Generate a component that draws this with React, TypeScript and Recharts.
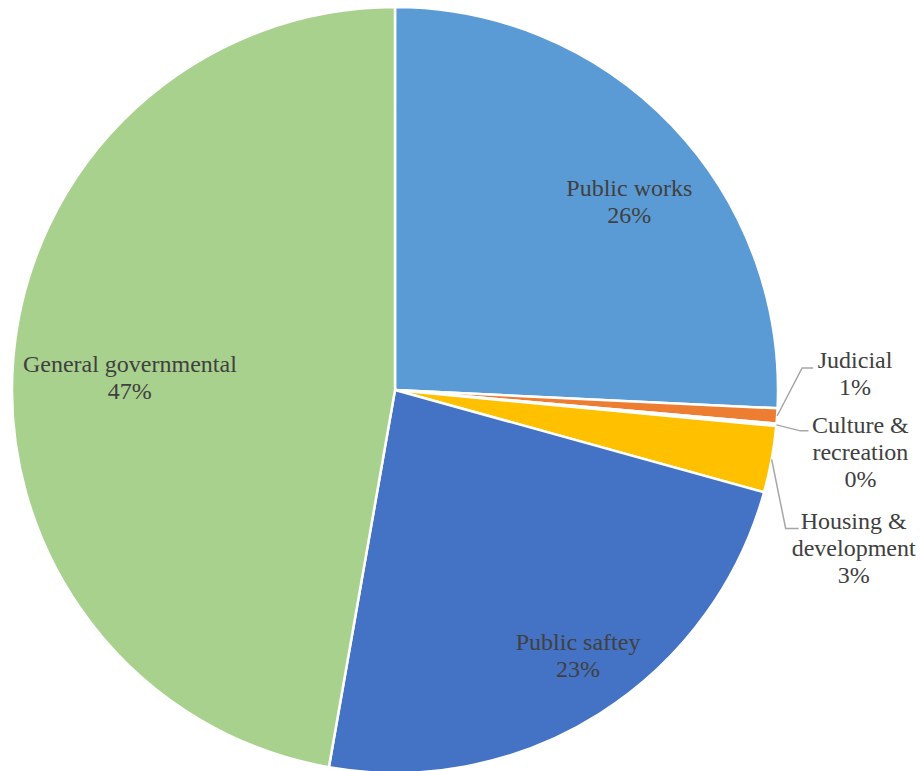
import { Cell, Pie, PieChart } from "recharts";

const categories = [
  'Public works',
  'Judicial',
  'Culture & recreation',
  'Housing & development',
  'Public saftey',
  'General governmental',
];
const shares = [25.75, 0.64, 0.1, 2.8, 23.45, 47.22];

const COLORS = ['#5B9BD5', '#ED7D31', '#A5A5A5', '#FFC000', '#4472C4', '#A9D18E'];

// label placement per slice: inside (radius fraction + angle nudge) or outside with a leader line
const LABEL_LAYOUT: any[] = [
  { inside: true, r: 0.786, da: -4.75 },
  { inside: false, elbow: [25, -48], len: 11, text: [42, -8] },
  { inside: false, elbow: [24, 6], len: 8, text: [52, -6] },
  { inside: false, elbow: [14, 69], len: 13, text: [55, -7] },
  { inside: true, r: 0.842, da: 2.3 },
  { inside: true, r: 0.693, da: 2.3 },
];

const data = categories.map((name, i) => ({ name, value: shares[i] }));

const RADIAN = Math.PI / 180;
const LINE_H = 27;
const TEXT_STYLE = {
  fontFamily: "'Liberation Serif', 'Times New Roman', Times, serif",
  fontSize: 24,
  fill: '#404040',
};

const renderLabel = ({ cx, cy, midAngle, outerRadius, percent, index }: any) => {
  const layout = LABEL_LAYOUT[index];
  const pct = `${Math.round(percent * 100)}%`;
  const name = categories[index];

  if (layout.inside) {
    const a = (midAngle + layout.da) * RADIAN;
    const r = outerRadius * layout.r;
    const x = cx + r * Math.cos(a);
    const y = cy - r * Math.sin(a);
    return (
      <text style={TEXT_STYLE} textAnchor="middle" dominantBaseline="central">
        <tspan x={x} y={y - LINE_H / 2}>{name}</tspan>
        <tspan x={x} y={y + LINE_H / 2}>{pct}</tspan>
      </text>
    );
  }

  const a = midAngle * RADIAN;
  const sx = cx + outerRadius * Math.cos(a);
  const sy = cy - outerRadius * Math.sin(a);
  const ex = sx + layout.elbow[0];
  const ey = sy + layout.elbow[1];
  const fx = ex + layout.len;
  const tx = fx + layout.text[0];
  const ty = ey + layout.text[1];
  const lines = [...name.split(/(?<=&) /), pct];

  return (
    <g>
      <polyline points={`${sx},${sy} ${ex},${ey} ${fx},${ey}`} fill="none" stroke="#A6A6A6" strokeWidth={1.5} />
      <text style={TEXT_STYLE} textAnchor="middle" dominantBaseline="central">
        {lines.map((l, i) => (
          <tspan key={i} x={tx} y={ty + i * LINE_H}>{l}</tspan>
        ))}
      </text>
    </g>
  );
};

export default function App() {
  return (
    <div style={{ position: 'absolute', left: 0, top: 0, width: 922, height: 771, background: '#fff' }}>
      <PieChart width={922} height={771} margin={{ top: 0, right: 0, bottom: 0, left: 0 }}>
        <Pie
          data={data}
          dataKey="value"
          nameKey="name"
          cx={395}
          cy={390}
          outerRadius={383}
          startAngle={90}
          endAngle={-270}
          stroke="#fff"
          strokeWidth={2.5}
          label={renderLabel}
          labelLine={false}
          isAnimationActive={false}
        >
          {data.map((entry, index) => (
            <Cell key={`cell-${index}`} fill={COLORS[index % COLORS.length]} />
          ))}
        </Pie>
      </PieChart>
    </div>
  );
}
